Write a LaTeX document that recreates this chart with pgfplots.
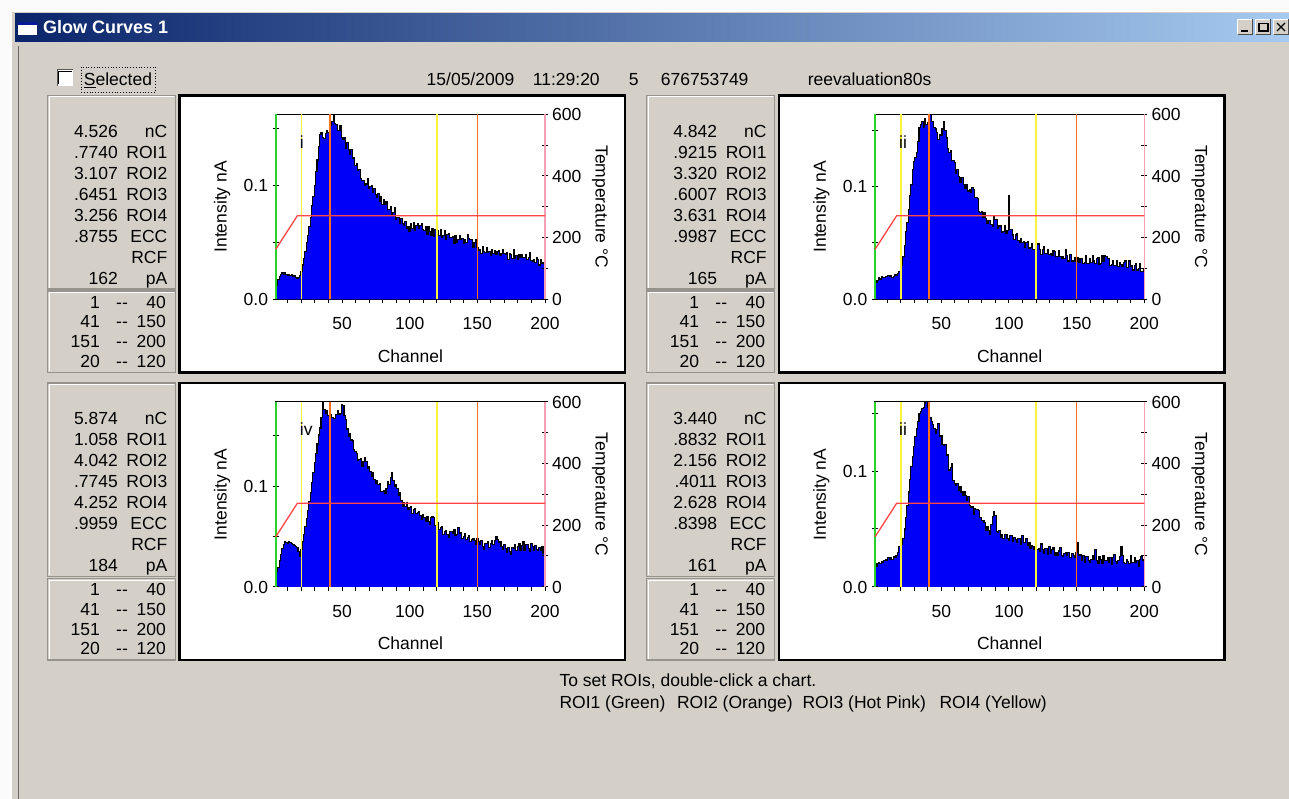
\documentclass[border=0pt]{standalone}
\usepackage{fontspec}
\setmainfont{Liberation Sans}
\usepackage{pgfplots}
\pgfplotsset{compat=1.18}
\usepackage{pgfplotstable}

\definecolor{winbg}{RGB}{212,208,200}
\definecolor{tbdark}{RGB}{10,36,106}
\definecolor{tblight}{RGB}{166,202,240}
\definecolor{roigreen}{RGB}{40,210,40}
\definecolor{roiyellow}{RGB}{250,245,60}
\definecolor{roiorange}{RGB}{250,110,30}
\definecolor{roipink}{RGB}{245,160,180}
\definecolor{tempred}{RGB}{255,70,70}
\definecolor{histblue}{RGB}{0,0,250}
\definecolor{panelline}{RGB}{150,146,140}

\newcommand{\tf}{\fontsize{17.5bp}{21bp}\selectfont}

% glow curves: channel, chart i, chart ii, chart iv, chart ii (lower) ; intensity in pA
\pgfplotstableread{
ch a b c d
1 7 8 9 13
2 12 15 15 18
3 17 17 19 20
4 20 19 26 21
5 22 18 32 20
6 23 20 38 22
7 22 19 42 21
8 23 19 45 23
9 22 20 44 24
10 21 20 43 23
11 22 21 45 25
12 21 20 44 24
13 22 21 43 25
14 20 19 42 24
15 21 20 41 26
16 19 22 40 25
17 18 21 39 27
18 19 23 35 30
19 21 25 30 35
20 24 19 37 29
21 30 30 45 37
22 36 38 52 42
23 42 48 60 50
24 50 60 68 60
25 56 68 76 70
26 64 80 85 82
27 72 92 94 93
28 82 102 104 104
29 90 115 114 113
30 100 122 124 121
31 112 126 133 130
32 122 130 142 137
33 134 140 151 143
34 144 152 158 150
35 146 155 168 152
36 142 158 184 154
37 141 152 176 155
38 145 160 172 159
39 148 155 175 160
40 146 157 170 155
41 150 162 169 148
42 152 164 171 146
43 156 158 168 143
44 162 158 167 140
45 154 152 167 137
46 153 151 171 133
47 148 148 175 136
48 148 142 171 141
49 152 146 172 130
50 142 145 181 131
51 140 151 180 123
52 142 158 170 122
53 132 150 166 123
54 137 143 157 114
55 131 134 150 114
56 127 130 152 101
57 131 132 146 103
58 123 123 145 107
59 124 123 137 92
60 117 121 135 89
61 119 112 133 88
62 113 115 126 89
63 114 109 127 83
64 106 104 128 87
65 104 108 120 82
66 104 108 125 79
67 100 102 129 82
68 101 98 125 79
69 106 102 118 75
70 97 96 120 78
71 99 97 115 70
72 100 95 110 69
73 94 99 114 69
74 97 97 107 63
75 92 90 103 68
76 89 90 106 67
77 93 89 102 67
78 86 78 103 66
79 90 77 95 60
80 83 78 95 57
81 87 73 96 57
82 83 77 93 56
83 86 72 98 49
84 79 67 105 52
85 79 70 102 49
86 81 70 109 45
87 74 66 114 54
88 76 65 106 61
89 80 73 100 65
90 70 71 102 62
91 72 71 98 48
92 72 63 91 47
93 66 65 94 49
94 71 65 86 43
95 66 59 80 45
96 65 60 84 42
97 68 65 80 45
98 62 58 84 45
99 64 61 77 42
100 59 92 79 40
101 66 62 80 44
102 62 62 73 44
103 67 57 77 39
104 60 53 78 43
105 65 57 73 41
106 66 58 74 38
107 62 52 75 42
108 65 50 71 42
109 66 54 67 37
110 61 50 72 44
111 60 51 69 38
112 64 46 65 38
113 57 50 70 42
114 64 51 65 36
115 59 45 62 38
116 56 46 69 33
117 62 49 70 36
118 55 44 69 35
119 61 44 61 32
120 57 50 63 29
121 60 49 64 32
122 56 49 57 33
123 61 44 59 31
124 54 40 60 37
125 56 44 52 32
126 60 47 55 29
127 52 41 56 33
128 57 41 52 33
129 58 44 49 28
130 54 40 55 35
131 54 41 55 29
132 55 39 53 32
133 49 43 57 34
134 56 42 51 27
135 50 38 52 30
136 52 38 59 27
137 56 43 53 31
138 52 38 54 34
139 53 36 48 27
140 49 38 50 26
141 52 36 53 29
142 50 44 47 30
143 57 39 49 27
144 53 34 51 30
145 52 40 45 25
146 52 40 47 25
147 45 34 48 29
148 50 34 46 27
149 52 37 42 25
150 45 34 48 30
151 43 37 45 38
152 44 33 42 27
153 40 36 46 28
154 46 36 40 23
155 42 32 37 27
156 41 33 43 21
157 45 39 43 26
158 41 32 45 26
159 42 32 39 23
160 38 36 43 21
161 44 33 46 24
162 40 39 42 27
163 43 34 46 24
164 39 32 50 32
165 42 36 47 23
166 43 37 44 20
167 38 31 45 26
168 40 32 40 24
169 44 39 37 20
170 40 34 42 27
171 39 39 38 23
172 41 38 34 23
173 35 36 39 25
174 40 36 35 21
175 39 30 32 25
176 36 31 39 19
177 44 34 38 25
178 36 30 42 28
179 38 30 36 22
180 35 34 40 20
181 39 29 43 23
182 37 33 36 26
183 39 31 41 35
184 37 29 45 27
185 37 33 36 21
186 39 34 42 20
187 35 28 42 24
188 37 28 38 22
189 41 34 35 20
190 34 29 43 27
191 33 30 40 21
192 35 26 36 21
193 32 30 41 25
194 37 32 37 21
195 35 26 36 23
196 30 27 39 18
197 35 32 36 24
198 31 25 40 26
199 32 25 33 23
200 26 27 35 24
}\gc

\pgfplotsset{gcaxis/.style={anchor=south west, scale only axis,
  width=269.3bp, height=185bp, xmin=1, xmax=200}}

% side panel: dx dy nC ROI1 ROI2 ROI3 ROI4 ECC pA
\newcommand{\panel}[9]{%
\begin{scope}[shift={(#1,#2)}]
 \draw[panelline,line width=1.2bp] (47.5,95.5) rectangle (175.5,289);
 \draw[panelline,line width=1.2bp] (47.5,291) rectangle (175.5,372.5);
 \draw[white,line width=1bp] (49,287.5)--(49,97)--(174,97);
 \draw[white,line width=1bp] (49,371)--(49,292.5)--(174,292.5);
 \foreach \v/\u [count=\k from 0] in {#3/nC,#4/ROI1,#5/ROI2,#6/ROI3,#7/ROI4,#8/ECC,/RCF,#9/pA} {
   \node[anchor=base east] at (118,{137.3+21*\k}) {\v};
   \node[anchor=base east] at (167.5,{137.3+21*\k}) {\u};
 }
 \foreach \a/\b [count=\k from 0] in {1/40,41/150,151/200,20/120} {
   \node[anchor=base east] at (100,{308+19.8*\k}) {\a};
   \node[anchor=base] at (122,{308+19.8*\k}) {{-}{-}};
   \node[anchor=base east] at (166,{308+19.8*\k}) {\b};
 }
 \draw[black,line width=2.5bp,fill=white] (179.5,95.5) rectangle (625,372.5);
\end{scope}}

% chart: dx dy ymax column label
\newcommand{\plotchart}[5]{%
\pgfmathsetmacro{\PL}{275.7+#1}%
\pgfmathsetmacro{\PB}{299.3+#2}%
\pgfmathsetmacro{\PR}{\PL+269.3}%
\pgfmathsetmacro{\PT}{\PB-185}%
\pgfmathsetmacro{\PY}{\PB-185/#3*100+6.3}%
\begin{axis}[gcaxis, at={(\PL bp,-\PB bp)}, ymin=0, ymax=#3,
  axis line style={black,line width=1.1bp},
  xtick={10,20,...,200}, xticklabels={}, xtick pos=left, tick align=outside,
  major tick length=4bp, tick style={black,line width=1bp},
  ytick=\empty]
 \addplot[fill=histblue, draw=none, const plot mark mid] table[x=ch,y=#4] {\gc} \closedcycle;
 \addplot[black, line width=1.1bp, const plot mark mid] table[x=ch,y=#4] {\gc};
\end{axis}
\begin{axis}[gcaxis, at={(\PL bp,-\PB bp)}, ymin=0, ymax=#3,
  axis x line=none, axis y line*=left, axis line style={draw=none},
  ytick={0,50,100,150}, yticklabels={}, tick align=center,
  major tick length=6bp, tick style={black,line width=1bp}]
 \addplot[draw=none] coordinates {(1,0)};
\end{axis}
\begin{axis}[gcaxis, at={(\PL bp,-\PB bp)}, ymin=0, ymax=600,
  axis x line=none, axis y line*=right, axis line style={roipink,line width=1.6bp},
  ytick={0,200,400,600}, minor ytick={100,300,500}, yticklabels={},
  tick align=center, major tick length=6bp, minor tick length=6bp,
  tick style={black,line width=1bp}, clip=false]
 \addplot[roigreen,line width=1.6bp] coordinates {(1,0)(1,600)};
 \addplot[roiyellow,line width=1.6bp] coordinates {(20,0)(20,600)};
 \addplot[roiorange,line width=1.6bp] coordinates {(41,0)(41,600)};
 \addplot[roiyellow,line width=1.6bp] coordinates {(120,0)(120,600)};
 \addplot[roiorange,line width=1.6bp] coordinates {(150,0)(150,600)};
 \addplot[roipink,line width=1.6bp] coordinates {(200,0)(200,600)};
 \addplot[tempred,line width=1.3bp] coordinates {(1,162)(17,271)(200,271)};
\end{axis}
\foreach \t/\o in {50/66.31,100/133.97,150/201.64,200/269.3}
  \node[anchor=base] at ({\PL+\o},{\PB+30.3}) {\t};
\node[anchor=base east] at ({\PL-7.5},{\PB+6.3}) {0.0};
\node[anchor=base east] at ({\PL-7.5},\PY) {0.1};
\foreach \t/\o in {0/0,200/61.67,400/123.33,600/185}
  \node[anchor=base west] at ({\PR+7},{\PB-\o+6.3}) {\t};
\node[rotate=90] at ({\PL-53.7},{\PB-92.5}) {Intensity nA};
\node[rotate=-90] at ({\PR+55},{\PB-92.5}) {Temperature °C};
\node[anchor=base] at ({\PL+134.7},{\PB+62.7}) {Channel};
\node[anchor=north west] at ({\PL+24},{\PT+21}) {#5};
}

\begin{document}
\begin{tikzpicture}[x=1bp,y=-1bp,every node/.style={inner sep=0pt,font=\tf}]
\useasboundingbox (0,0) rectangle (1289,799);
\clip (0,0) rectangle (1289,799);
\fill[white!97!gray] (0,0) rectangle (1289,799);
\fill[winbg] (10,10) rectangle (1289,799);
\draw[white,line width=1.5bp] (11,799)--(11,11)--(1289,11);
\draw[gray!80!black,line width=1.5bp] (18.5,799)--(18.5,46);
\shade[left color=tbdark,right color=tblight] (15,13.5) rectangle (1289,42);
% title icon
\fill[white] (18,22) rectangle (37,35);
\fill[tbdark!70!blue] (18,22) rectangle (37,25);
\node[anchor=base west,text=white,font=\bfseries\fontsize{18bp}{21bp}\selectfont] at (43,34) {Glow Curves 1};
% title buttons
\foreach \bx in {1237,1255,1273} {
  \fill[winbg] (\bx,19) rectangle ++(16,16);
  \draw[white] ({\bx+0.5},34.5)--({\bx+0.5},19.5)--({\bx+15.5},19.5);
  \draw[gray!60!black] ({\bx+15.5},19.5)--({\bx+15.5},34.5)--({\bx+0.5},34.5);
}
\draw[black,line width=2bp] (1241,31)--(1248,31);
\draw[black,line width=1.2bp] (1259,23.5) rectangle (1268,31);
\draw[black,line width=1.2bp] (1277,23)--(1285,31) (1277,31)--(1285,23);
% checkbox and header
\fill[white] (57,70) rectangle (73,86);
\draw[gray!70!black,line width=1bp] (57,86)--(57,70)--(73,70);
\draw[black,line width=1bp] (58.5,84.5)--(58.5,71.5)--(71.5,71.5);
\node[anchor=base west] at (83.7,85.3) {\underline{S}elected};
\draw[black,dotted,line width=0.8bp] (81,67) rectangle (155,92);
\node[anchor=base west] at (426.5,85.3) {15/05/2009};
\node[anchor=base west] at (532.7,85.3) {11:29:20};
\node[anchor=base west] at (628.6,85.3) {5};
\node[anchor=base west] at (660.7,85.3) {676753749};
\node[anchor=base west] at (807.6,85.3) {reevaluation80s};
% panels
\panel{0}{0}{4.526}{.7740}{3.107}{.6451}{3.256}{.8755}{162}
\panel{599.3}{0}{4.842}{.9215}{3.320}{.6007}{3.631}{.9987}{165}
\panel{0}{287.5}{5.874}{1.058}{4.042}{.7745}{4.252}{.9959}{184}
\panel{599.3}{287.5}{3.440}{.8832}{2.156}{.4011}{2.628}{.8398}{161}
% charts
\plotchart{0}{0}{162}{a}{i}
\plotchart{599.3}{0}{164}{b}{ii}
\plotchart{0}{287.5}{184}{c}{iv}
\plotchart{599.3}{287.5}{160}{d}{ii}
% footer
\node[anchor=base west] at (559.3,686.3) {To set ROIs, double-click a chart.};
\node[anchor=base west] at (559.3,708) {ROI1 (Green)};
\node[anchor=base west] at (676.8,708) {ROI2 (Orange)};
\node[anchor=base west] at (802.3,708) {ROI3 (Hot Pink)};
\node[anchor=base west] at (939.3,708) {ROI4 (Yellow)};
\end{tikzpicture}
\end{document}
